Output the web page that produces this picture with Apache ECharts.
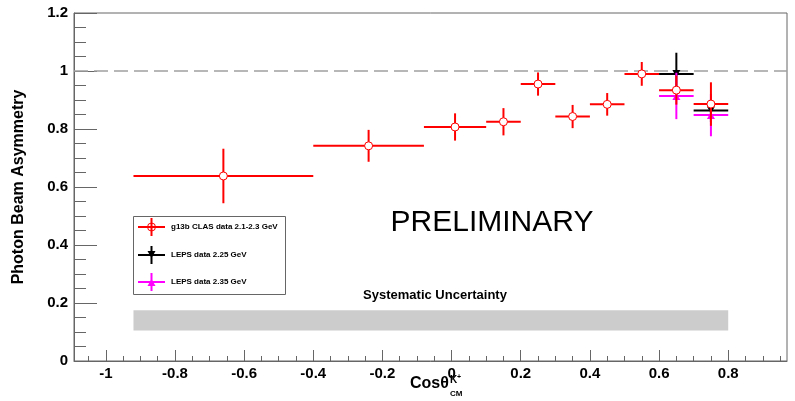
<!DOCTYPE html>
<html>
<head>
<meta charset="utf-8">
<script src="https://cdn.jsdelivr.net/npm/echarts@6/dist/echarts.min.js"></script>
<style>
  html, body { margin: 0; padding: 0; background: #fff; }
  #chart { width: 795px; height: 401px; }
</style>
</head>
<body>
<div id="chart"></div>
<script>
// g13b CLAS data 2.1-2.3 GeV
var clasX   = [-0.66, -0.24, 0.01, 0.15, 0.25, 0.35, 0.45, 0.55, 0.65, 0.75];
var clasXLo = [-0.92, -0.40, -0.08, 0.10, 0.20, 0.30, 0.40, 0.50, 0.60, 0.70];
var clasXHi = [-0.40, -0.08, 0.10, 0.20, 0.30, 0.40, 0.50, 0.60, 0.70, 0.80];
var clasY   = [0.638, 0.742, 0.807, 0.825, 0.955, 0.843, 0.885, 0.990, 0.934, 0.886];
var clasErr = [0.094, 0.055, 0.047, 0.047, 0.040, 0.040, 0.039, 0.041, 0.050, 0.075];

// LEPS data 2.25 GeV
var leps225X   = [0.65, 0.75];
var leps225XLo = [0.60, 0.70];
var leps225XHi = [0.70, 0.80];
var leps225Y   = [0.990, 0.864];
var leps225Err = [0.073, 0.040];

// LEPS data 2.35 GeV
var leps235X   = [0.65, 0.75];
var leps235XLo = [0.60, 0.70];
var leps235XHi = [0.70, 0.80];
var leps235Y   = [0.914, 0.848];
var leps235Err = [0.080, 0.073];

// systematic uncertainty band: x from, x to, y from, y to
var sysBand = [[-0.92, 0.80, 0.105, 0.175]];

var xTickLabels = [-1, -0.8, -0.6, -0.4, -0.2, 0, 0.2, 0.4, 0.6, 0.8];
var xMinorTicks = [];
for (var k = -21; k <= 19; k++) xMinorTicks.push(+(k * 0.05).toFixed(2));

var chartDom = document.getElementById('chart');
var myChart = echarts.init(chartDom);
var option;

function errorSeries(name, color, marker, xs, xlo, xhi, ys, errs) {
  return {
    name: name,
    type: 'custom',
    xAxisIndex: 0,
    yAxisIndex: 0,
    data: xs.map(function (x, i) { return [x, xlo[i], xhi[i], ys[i], errs[i]]; }),
    encode: { x: [0, 1, 2], y: 3 },
    z: 5,
    renderItem: function (params, api) {
      var x = api.value(0), y = api.value(3), e = api.value(4);
      var c = api.coord([x, y]);
      var l = api.coord([api.value(1), y]);
      var r = api.coord([api.value(2), y]);
      var t = api.coord([x, y + e]);
      var b = api.coord([x, y - e]);
      var ls = { stroke: color, lineWidth: 2 };
      var kids = [
        { type: 'line', shape: { x1: l[0], y1: l[1], x2: r[0], y2: r[1] }, style: ls },
        { type: 'line', shape: { x1: t[0], y1: t[1], x2: b[0], y2: b[1] }, style: ls }
      ];
      if (marker === 'circle') {
        kids.push({ type: 'circle', shape: { cx: c[0], cy: c[1], r: 4 },
          style: { fill: '#fff', stroke: color, lineWidth: 1 } });
      } else if (marker === 'down') {
        kids.push({ type: 'polygon', shape: { points: [[c[0] - 4, c[1] - 4], [c[0] + 4, c[1] - 4], [c[0], c[1] + 3]] },
          style: { fill: color } });
      } else {
        kids.push({ type: 'polygon', shape: { points: [[c[0] - 4, c[1] + 4], [c[0] + 4, c[1] + 4], [c[0], c[1] - 3]] },
          style: { fill: color } });
      }
      return { type: 'group', children: kids };
    }
  };
}

// little legend markers: cross with a symbol on it
function legendEntry(y, color, marker, label) {
  var items = [
    { type: 'line', shape: { x1: 138, y1: y, x2: 165, y2: y }, style: { stroke: color, lineWidth: 2 } },
    { type: 'line', shape: { x1: 151.5, y1: y - 9, x2: 151.5, y2: y + 9 }, style: { stroke: color, lineWidth: 2 } }
  ];
  if (marker === 'circle') {
    items.push({ type: 'circle', shape: { cx: 151.5, cy: y, r: 4 }, style: { fill: 'none', stroke: color, lineWidth: 1 } });
  } else if (marker === 'down') {
    items.push({ type: 'polygon', shape: { points: [[147.5, y - 4], [155.5, y - 4], [151.5, y + 3]] }, style: { fill: color } });
  } else {
    items.push({ type: 'polygon', shape: { points: [[147.5, y + 4], [155.5, y + 4], [151.5, y - 3]] }, style: { fill: color } });
  }
  items.push({ type: 'text', x: 171, y: y, style: { text: label, fill: '#000', font: 'bold 8px "Liberation Sans"', verticalAlign: 'middle' } });
  items.forEach(function (it) { it.z = 20; });
  return items;
}

var bandSeries = {
  name: 'Systematic Uncertainty',
  type: 'custom',
  data: sysBand,
  encode: { x: [0, 1], y: [2, 3] },
  z: 1,
  renderItem: function (params, api) {
    var p1 = api.coord([api.value(0), api.value(3)]);
    var p2 = api.coord([api.value(1), api.value(2)]);
    return { type: 'rect', shape: { x: p1[0], y: p1[1], width: p2[0] - p1[0], height: p2[1] - p1[1] },
      style: { fill: '#cccccc' } };
  }
};

var labelFont = { color: '#000', fontSize: 15, fontWeight: 'bold', fontFamily: 'Liberation Sans' };

option = {
  animation: false,
  backgroundColor: '#fff',
  grid: {
    left: 74, right: 8, top: 13, bottom: 40,
    show: true, borderColor: '#666', borderWidth: 1
  },
  xAxis: [
    {
      type: 'value',
      min: -1.092,
      max: 0.97,
      splitLine: { show: false },
      axisLine: { onZero: false, lineStyle: { color: '#666' } },
      axisTick: { inside: true, length: 11, customValues: xTickLabels, lineStyle: { color: '#666' } },
      axisLabel: Object.assign({ customValues: xTickLabels, margin: 5 }, labelFont)
    },
    {
      type: 'value',
      min: -1.092,
      max: 0.97,
      position: 'bottom',
      splitLine: { show: false },
      axisLine: { show: false, onZero: false },
      axisTick: { inside: true, length: 5, customValues: xMinorTicks, lineStyle: { color: '#666' } },
      axisLabel: { show: false }
    }
  ],
  yAxis: {
    type: 'value',
    min: 0,
    max: 1.2,
    interval: 0.2,
    name: 'Photon Beam Asymmetry',
    nameLocation: 'middle',
    nameGap: 47,
    nameTextStyle: { color: '#000', fontSize: 16, fontWeight: 'bold', fontFamily: 'Liberation Sans' },
    splitLine: { show: false },
    axisLine: { onZero: false, lineStyle: { color: '#666' } },
    axisTick: { inside: true, length: 23, lineStyle: { color: '#666' } },
    minorTick: { show: true, splitNumber: 4, length: 12, lineStyle: { color: '#666' } },
    axisLabel: Object.assign({ margin: 6 }, labelFont)
  },
  graphic: [
    { type: 'text', x: 492, y: 223, style: { text: 'PRELIMINARY', fill: '#000', font: '30px "Liberation Sans"', align: 'center', verticalAlign: 'middle' } },
    { type: 'text', x: 435, y: 295, style: { text: 'Systematic Uncertainty', fill: '#000', font: 'bold 13px "Liberation Sans"', align: 'center', verticalAlign: 'middle' } },
    // x axis title with super/subscript
    { type: 'text', x: 410, y: 392, style: { text: 'Cosθ', fill: '#000', font: 'bold 16px "Liberation Sans"', verticalAlign: 'bottom' } },
    { type: 'text', x: 450, y: 385, style: { text: 'K', fill: '#000', font: 'bold 10px "Liberation Sans"', verticalAlign: 'bottom' } },
    { type: 'text', x: 457, y: 381, style: { text: '+', fill: '#000', font: 'bold 7px "Liberation Sans"', verticalAlign: 'bottom' } },
    { type: 'text', x: 450, y: 398, style: { text: 'CM', fill: '#000', font: 'bold 8px "Liberation Sans"', verticalAlign: 'bottom' } },
    // legend box
    { type: 'rect', z: 10, shape: { x: 133.5, y: 216.5, width: 152, height: 78 }, style: { fill: '#fff', stroke: '#666', lineWidth: 1 } }
  ].concat(
    legendEntry(227, '#ff0000', 'circle', 'g13b CLAS data 2.1-2.3 GeV'),
    legendEntry(255, '#000000', 'down', 'LEPS data 2.25 GeV'),
    legendEntry(282, '#ff00ff', 'up', 'LEPS data 2.35 GeV')
  ),
  series: [
    bandSeries,
    errorSeries('LEPS data 2.25 GeV', '#000000', 'down', leps225X, leps225XLo, leps225XHi, leps225Y, leps225Err),
    errorSeries('LEPS data 2.35 GeV', '#ff00ff', 'up', leps235X, leps235XLo, leps235XHi, leps235Y, leps235Err),
    Object.assign(
      errorSeries('g13b CLAS data 2.1-2.3 GeV', '#ff0000', 'circle', clasX, clasXLo, clasXHi, clasY, clasErr),
      {
        markLine: {
          silent: true,
          symbol: 'none',
          label: { show: false },
          lineStyle: { color: '#a0a0a0', width: 1.5, type: [14, 6] },
          data: [{ yAxis: 1 }]
        }
      }
    )
  ]
};

option && myChart.setOption(option);
</script>
</body>
</html>
